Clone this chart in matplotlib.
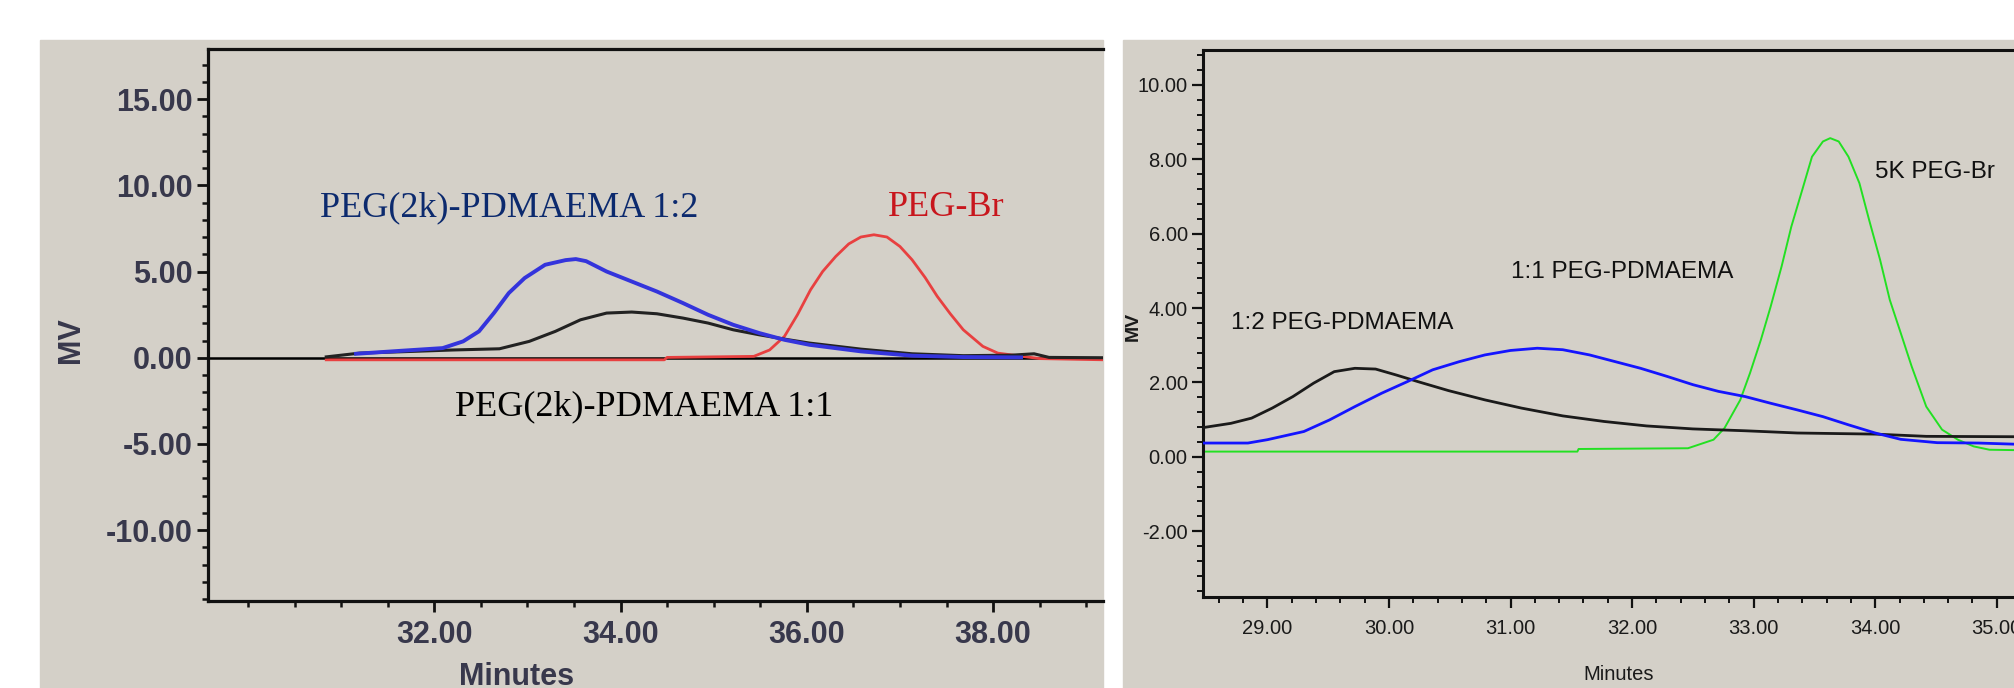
"""Two GPC traces side by side: PEG(2k)/PEG-Br (left) and 5K PEG-Br series (right)."""
import matplotlib
matplotlib.use('Agg')
import matplotlib.pyplot as plt
from matplotlib.patches import Rectangle
from matplotlib.ticker import FixedLocator, MultipleLocator, FormatStrFormatter

plt.rcParams['font.family'] = ['Liberation Sans', 'DejaVu Sans']
SERIF = ['Liberation Serif', 'DejaVu Serif']
GRAY  = '#d4d0c8'

# ── Left panel data (minutes, mV) ────────────────────────────────────────────

left_red_t  = [30.84, 34.47, 34.50, 35.43, 35.60, 35.76, 35.90, 36.04, 36.17, 36.31,
               36.45, 36.58, 36.72, 36.86, 37.00, 37.13, 37.27, 37.40, 37.54, 37.68,
               37.89, 38.05, 38.50, 39.20]
left_red_mv = [-0.12, -0.12, 0.02, 0.08, 0.45, 1.24, 2.50, 3.94, 5.00, 5.87,
               6.60, 7.00, 7.13, 7.00, 6.45, 5.68, 4.65, 3.56, 2.55, 1.62,
               0.66, 0.27, -0.05, -0.12]

left_blue_t  = [31.16, 31.66, 32.09, 32.31, 32.48, 32.64, 32.80, 32.97, 33.19, 33.41,
                33.52, 33.63, 33.85, 34.12, 34.39, 34.67, 34.94, 35.21, 35.49, 35.76,
                36.03, 36.58, 37.13, 37.68, 38.30]
left_blue_mv = [0.23, 0.41, 0.56, 0.95, 1.53, 2.59, 3.75, 4.62, 5.39, 5.66,
                5.72, 5.60, 5.00, 4.42, 3.84, 3.17, 2.49, 1.91, 1.43, 1.04,
                0.75, 0.37, 0.12, 0.04, 0.02]

left_black_t  = [30.84, 31.20, 31.66, 32.20, 32.70, 33.02, 33.30, 33.57, 33.85, 34.12,
                 34.39, 34.67, 34.94, 35.21, 35.49, 35.76, 36.03, 36.58, 37.13, 37.68,
                 38.20, 38.44, 38.60, 39.20]
left_black_mv = [0.05, 0.27, 0.35, 0.45, 0.52, 0.95, 1.53, 2.20, 2.59, 2.65,
                 2.55, 2.30, 2.01, 1.62, 1.33, 1.08, 0.85, 0.50, 0.23, 0.12,
                 0.15, 0.23, 0.02, 0.00]

left_xticks = [32, 34, 36, 38]

# ── Right panel data (minutes, mV) ───────────────────────────────────────────

right_black_t  = [28.44, 28.70, 28.87, 29.04, 29.21, 29.38, 29.55, 29.72, 29.89, 30.06,
                  30.24, 30.49, 30.79, 31.09, 31.43, 31.77, 32.12, 32.50, 32.93, 33.36,
                  34.00, 34.42, 35.14]
right_black_mv = [0.77, 0.90, 1.04, 1.31, 1.62, 1.98, 2.29, 2.38, 2.36, 2.20,
                  2.02, 1.78, 1.53, 1.31, 1.10, 0.95, 0.83, 0.75, 0.70, 0.64,
                  0.61, 0.55, 0.54]

right_blue_t  = [28.44, 28.84, 29.00, 29.30, 29.51, 29.72, 29.94, 30.15, 30.36, 30.58,
                 30.79, 31.00, 31.22, 31.43, 31.65, 31.86, 32.07, 32.29, 32.50, 32.71,
                 32.93, 33.14, 33.36, 33.57, 33.78, 34.00, 34.21, 34.51, 34.85, 35.14]
right_blue_mv = [0.37, 0.37, 0.46, 0.68, 0.99, 1.35, 1.71, 2.02, 2.34, 2.56,
                 2.74, 2.86, 2.92, 2.88, 2.74, 2.56, 2.38, 2.16, 1.94, 1.76,
                 1.62, 1.44, 1.26, 1.08, 0.86, 0.64, 0.47, 0.38, 0.37, 0.34]

right_green_t  = [28.44, 31.55, 31.56, 32.46, 32.67, 32.76, 32.89, 32.97, 33.06, 33.14,
                  33.23, 33.31, 33.40, 33.48, 33.57, 33.63, 33.70, 33.78, 33.87, 33.95,
                  34.04, 34.12, 34.21, 34.30, 34.42, 34.55, 34.68, 34.81, 34.94, 35.14]
right_green_mv = [0.14, 0.14, 0.21, 0.23, 0.46, 0.77, 1.53, 2.25, 3.15, 4.04,
                  5.12, 6.19, 7.18, 8.07, 8.48, 8.57, 8.48, 8.07, 7.36, 6.37,
                  5.30, 4.22, 3.33, 2.43, 1.35, 0.73, 0.46, 0.28, 0.19, 0.18]

# ── Figure ───────────────────────────────────────────────────────────────────

fig = plt.figure(figsize=(20.15, 6.88), dpi=100)
fig.add_artist(Rectangle((0.0199, 0), 0.5275, 0.9419, transform=fig.transFigure,
                         color=GRAY, zorder=0))
fig.add_artist(Rectangle((0.5573, 0), 0.4427, 0.9419, transform=fig.transFigure,
                         color=GRAY, zorder=0))

def _frame(ax, lw):
    ax.set_facecolor(GRAY)
    ax.spines['right'].set_visible(False)
    for s in ('left', 'top', 'bottom'):
        ax.spines[s].set_linewidth(lw)
        ax.spines[s].set_color('#111111')

# left panel
LCOL = '#38384c'
ax1 = fig.add_axes([0.1032, 0.1265, 0.4442, 0.8023])
_frame(ax1, 2.3)
ax1.axhline(0, color='black', lw=1.8, zorder=1)
ax1.plot(left_red_t,   left_red_mv,   color='#e84040', lw=2.0, zorder=2)
ax1.plot(left_black_t, left_black_mv, color='#222222', lw=2.2, zorder=3)
ax1.plot(left_blue_t,  left_blue_mv,  color='#3434dc', lw=2.8, zorder=4)
ax1.set_xlim(29.57, 39.18); ax1.set_ylim(-14.1, 17.9)
ax1.xaxis.set_major_locator(FixedLocator(left_xticks))
ax1.xaxis.set_minor_locator(MultipleLocator(0.5))
ax1.yaxis.set_major_locator(MultipleLocator(5))
ax1.yaxis.set_minor_locator(MultipleLocator(1))
ax1.xaxis.set_major_formatter(FormatStrFormatter('%.2f'))
ax1.yaxis.set_major_formatter(FormatStrFormatter('%.2f'))
ax1.tick_params(which='major', direction='out', length=8, width=2, labelsize=22,
                labelcolor=LCOL, color='#111111', pad=3)
ax1.tick_params(which='minor', direction='out', length=4.5, width=1.8, color='#111111')
ax1.tick_params(axis='x', which='major', pad=6)
ax1.tick_params(top=False, right=False, which='both')
for lbl in ax1.get_xticklabels() + ax1.get_yticklabels():
    lbl.set_fontweight('bold')

ax1.text(32.8, 8.7, 'PEG(2k)-PDMAEMA 1:2', color='#0c2a6e', fontsize=26,
         family=SERIF, ha='center', va='center')
ax1.text(37.5, 8.7, 'PEG-Br', color='#c8161d', fontsize=26,
         family=SERIF, ha='center', va='center')
ax1.text(34.25, -2.85, 'PEG(2k)-PDMAEMA 1:1', color='black', fontsize=26,
         family=SERIF, ha='center', va='center')
fig.text(0.0352, 0.505, 'MV', rotation=90, fontsize=22, color=LCOL,
         fontweight='bold', ha='center', va='center')
fig.text(0.2566, 0.016, 'Minutes', fontsize=22, color=LCOL,
         fontweight='bold', ha='center', va='center')

# right panel
RCOL = '#1a1a1a'
ax2 = fig.add_axes([0.597, 0.1323, 0.403, 0.795])
_frame(ax2, 2.2)
ax2.plot(right_green_t, right_green_mv, color='#22e022', lw=1.4, zorder=2)
ax2.plot(right_black_t, right_black_mv, color='#1a1a1a', lw=2.0, zorder=3)
ax2.plot(right_blue_t,  right_blue_mv,  color='#1414ff', lw=2.0, zorder=4)
ax2.set_xlim(28.47, 35.15); ax2.set_ylim(-3.77, 10.94)
ax2.xaxis.set_major_locator(MultipleLocator(1))
ax2.xaxis.set_minor_locator(MultipleLocator(0.2))
ax2.yaxis.set_major_locator(MultipleLocator(2))
ax2.yaxis.set_minor_locator(MultipleLocator(0.4))
ax2.xaxis.set_major_formatter(FormatStrFormatter('%.2f'))
ax2.yaxis.set_major_formatter(FormatStrFormatter('%.2f'))
ax2.tick_params(which='major', direction='out', length=8, width=1.6, labelsize=14.5,
                labelcolor=RCOL, color='#111111', pad=3)
ax2.tick_params(which='minor', direction='out', length=4.5, width=1.4, color='#111111')
ax2.tick_params(axis='x', which='major', pad=8)
ax2.tick_params(top=False, right=False, which='both')

ax2.text(28.70, 3.60, '1:2 PEG-PDMAEMA', fontsize=17.5, color='#111111',
         ha='left', va='center')
ax2.text(31.00, 4.98, '1:1 PEG-PDMAEMA', fontsize=17.5, color='#111111',
         ha='left', va='center')
ax2.text(34.00, 7.67, '5K PEG-Br', fontsize=17.5, color='#111111',
         ha='left', va='center')
fig.text(0.5623, 0.525, 'MV', rotation=90, fontsize=14, color=RCOL,
         fontweight='bold', ha='center', va='center')
fig.text(0.8035, 0.019, 'Minutes', fontsize=14.5, color=RCOL,
         ha='center', va='center')

fig.savefig('out.png', dpi=100, facecolor='white')
